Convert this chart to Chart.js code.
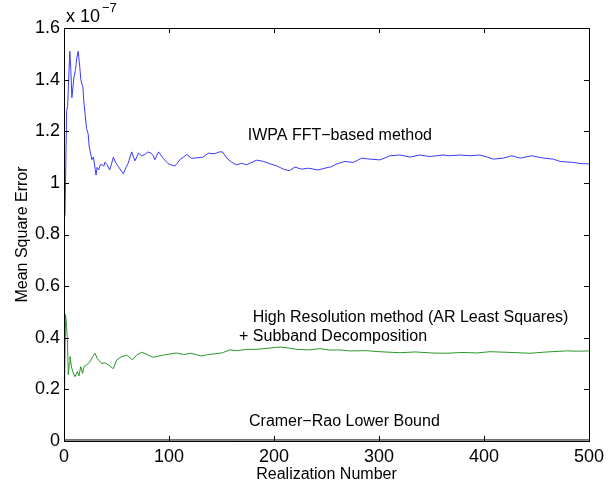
<!DOCTYPE html>
<html>
<head>
<meta charset="utf-8">
<script src="https://cdn.jsdelivr.net/npm/chart.js@4.4.0/dist/chart.umd.min.js"></script>
<style>
html, body { margin: 0; padding: 0; background: #fff; }
</style>
</head>
<body>
<canvas id="mseChart" width="616" height="489"></canvas>
<script>
// realization number / mean square error (x 1e-7)
var iwpaX = [0, 1, 2.5, 3.5, 5.5, 6.5, 7.5, 9.5, 11, 12, 13.5, 15, 16, 18, 19, 21.5, 23, 24, 26.5, 28, 30.5, 31.5, 33, 34.5, 36.5, 38, 39, 41, 43.5, 45, 47, 49, 51.5, 54, 56.5, 59, 61, 64.5, 67.5, 71, 74, 77, 80, 83, 85, 86.5, 90, 94.5, 99, 102, 105.5, 110.5, 117, 121.5, 126.5, 132.5, 137.5, 143.5, 148, 151, 155, 159.5, 164.5, 169, 174, 179, 183.5, 190, 196, 202.5, 209, 214.5, 220, 226.5, 232.5, 242, 248.5, 255, 260, 267.5, 275.5, 283.5, 291.5, 301, 310.5, 320, 329.5, 339, 348.5, 361, 367.5, 377, 386.5, 396, 403, 409, 418.5, 426.5, 434.5, 445.5, 456.5, 466, 472.5, 485, 494.5, 500];
var iwpaY = [0.85, 0.88, 1.28, 1.30, 1.51, 1.44, 1.33, 1.41, 1.44, 1.48, 1.51, 1.45, 1.40, 1.37, 1.31, 1.21, 1.19, 1.14, 1.09, 1.10, 1.03, 1.06, 1.05, 1.07, 1.07, 1.065, 1.08, 1.07, 1.05, 1.07, 1.10, 1.08, 1.065, 1.05, 1.035, 1.06, 1.075, 1.12, 1.085, 1.115, 1.105, 1.11, 1.12, 1.115, 1.105, 1.09, 1.12, 1.095, 1.075, 1.07, 1.065, 1.09, 1.11, 1.095, 1.097, 1.10, 1.115, 1.113, 1.12, 1.12, 1.096, 1.08, 1.07, 1.076, 1.07, 1.08, 1.088, 1.083, 1.074, 1.066, 1.053, 1.047, 1.061, 1.053, 1.057, 1.05, 1.057, 1.063, 1.074, 1.083, 1.079, 1.096, 1.092, 1.089, 1.105, 1.108, 1.10, 1.108, 1.102, 1.108, 1.105, 1.108, 1.105, 1.108, 1.10, 1.092, 1.096, 1.105, 1.096, 1.105, 1.096, 1.092, 1.083, 1.079, 1.074, 1.074];

var hrX = [0, 0.5, 1.5, 2.5, 3.2, 4.1, 5, 5.7, 7, 8.3, 10.5, 12.7, 14.3, 15.9, 17.8, 19, 21.6, 24.8, 27.3, 29.5, 31.7, 35.9, 39, 42.2, 46.3, 47, 50.2, 54.9, 58, 59.7, 64.4, 66, 69.2, 74, 80.3, 85, 94.6, 107, 114, 121, 131, 137, 144.5, 151, 158, 165, 174, 183, 193, 205.7, 214, 221.6, 234, 243.8, 253, 262.9, 272, 288, 300, 320, 335, 350, 364.5, 380, 393, 405.7, 420, 443.8, 460, 478.8, 490, 500];
var hrY = [0.0, 0.2, 0.49, 0.44, 0.39, 0.256, 0.30, 0.327, 0.29, 0.269, 0.249, 0.269, 0.252, 0.288, 0.262, 0.288, 0.295, 0.307, 0.327, 0.34, 0.32, 0.30, 0.303, 0.295, 0.282, 0.28, 0.314, 0.327, 0.33, 0.333, 0.317, 0.317, 0.333, 0.344, 0.333, 0.324, 0.333, 0.341, 0.335, 0.34, 0.329, 0.335, 0.338, 0.342, 0.353, 0.35, 0.355, 0.355, 0.359, 0.364, 0.36, 0.355, 0.353, 0.358, 0.352, 0.353, 0.349, 0.35, 0.346, 0.342, 0.345, 0.341, 0.34, 0.343, 0.341, 0.346, 0.344, 0.34, 0.345, 0.349, 0.348, 0.349];

var crlbX = [0, 500];
var crlbY = [0.004, 0.004];

var yTicks = [0, 0.2, 0.4, 0.6, 0.8, 1, 1.2, 1.4, 1.6];
var xTicks = [0, 100, 200, 300, 400, 500];

// text labels placed in data coordinates
var notes = [
	{ text: 'IWPA FFT\u2212based method', x: 175, y: 1.182 },
	{ text: 'High Resolution method (AR Least Squares)', x: 179.7, y: 0.477 },
	{ text: '+ Subband Decomposition', x: 166.7, y: 0.403 },
	{ text: 'Cramer\u2212Rao Lower Bound', x: 176.2, y: 0.074 }
];

function toPoints(xs, ys) {
	var pts = [];
	for (var i in xs) {
		pts.push({ x: xs[i], y: ys[i] });
	}
	return pts;
}

var FONT = '"Liberation Sans", Arial, Helvetica, sans-serif';

var boxPlugin = {
	id: 'box',
	afterDraw: function(chart) {
		var ctx = chart.ctx;
		var a = chart.chartArea;
		var xs = chart.scales.x, ys = chart.scales.y;
		ctx.save();
		ctx.strokeStyle = '#000';
		ctx.lineWidth = 1;
		ctx.strokeRect(Math.round(a.left) + 0.5, Math.round(a.top) + 0.5, Math.round(a.right - a.left), Math.round(a.bottom - a.top));
		ctx.beginPath();
		yTicks.forEach(function(v) {
			var py = Math.round(ys.getPixelForValue(v)) + 0.5;
			ctx.moveTo(a.left, py); ctx.lineTo(a.left + 5, py);
			ctx.moveTo(a.right, py); ctx.lineTo(a.right - 5, py);
		});
		xTicks.forEach(function(v) {
			var px = Math.round(xs.getPixelForValue(v)) + 0.5;
			ctx.moveTo(px, a.bottom); ctx.lineTo(px, a.bottom - 5);
			ctx.moveTo(px, a.top); ctx.lineTo(px, a.top + 5);
		});
		ctx.stroke();

		ctx.fillStyle = '#000';
		ctx.textBaseline = 'middle';
		ctx.textAlign = 'left';
		ctx.font = '16px ' + FONT;
		notes.forEach(function(n) {
			ctx.fillText(n.text, xs.getPixelForValue(n.x), ys.getPixelForValue(n.y));
		});

		// axis multiplier
		ctx.font = '18px ' + FONT;
		ctx.fillText('x 10', a.left + 2, a.top - 11);
		ctx.font = '13px ' + FONT;
		ctx.fillText('\u22127', a.left + 38, a.top - 20);
		ctx.restore();
	}
};

var ctx = document.getElementById('mseChart');

var chart = new Chart(ctx, {
	type: 'line',
	data: {
		datasets: [
			{
				label: 'IWPA FFT-based method',
				data: toPoints(iwpaX, iwpaY),
				borderColor: '#3a3aff',
				borderWidth: 1,
				pointRadius: 0,
				tension: 0
			},
			{
				label: 'High Resolution method + Subband Decomposition',
				data: toPoints(hrX, hrY),
				borderColor: '#2a962a',
				borderWidth: 1,
				pointRadius: 0,
				tension: 0
			},
			{
				label: 'Cramer-Rao Lower Bound',
				data: toPoints(crlbX, crlbY),
				borderColor: '#000',
				borderWidth: 1,
				pointRadius: 0,
				tension: 0
			}
		]
	},
	options: {
		responsive: false,
		animation: false,
		layout: { padding: { top: 28, right: 27, left: 0, bottom: 0 } },
		plugins: {
			legend: { display: false },
			tooltip: { enabled: false }
		},
		scales: {
			x: {
				type: 'linear',
				min: 0,
				max: 500,
				afterBuildTicks: function(s) { s.ticks = xTicks.map(function(v) { return { value: v }; }); },
				ticks: { color: '#000', font: { family: FONT, size: 18 }, padding: 5, maxRotation: 0 },
				grid: { display: false, drawTicks: false },
				border: { display: false },
				title: { display: true, text: 'Realization Number', color: '#000', font: { family: FONT, size: 16 }, padding: { top: 0, bottom: 5 } },
				afterFit: function(s) { s.height = 48; }
			},
			y: {
				min: 0,
				max: 1.6,
				afterBuildTicks: function(s) { s.ticks = yTicks.map(function(v) { return { value: v }; }); },
				ticks: {
					color: '#000',
					font: { family: FONT, size: 18 },
					padding: 4,
					callback: function(v) { return String(+v.toFixed(1)); }
				},
				grid: { display: false, drawTicks: false },
				border: { display: false },
				title: { display: true, text: 'Mean Square Error', color: '#000', font: { family: FONT, size: 16 }, padding: { top: 13, bottom: 0 } },
				afterFit: function(s) { s.width = 64; }
			}
		}
	},
	plugins: [boxPlugin]
});
</script>
</body>
</html>
